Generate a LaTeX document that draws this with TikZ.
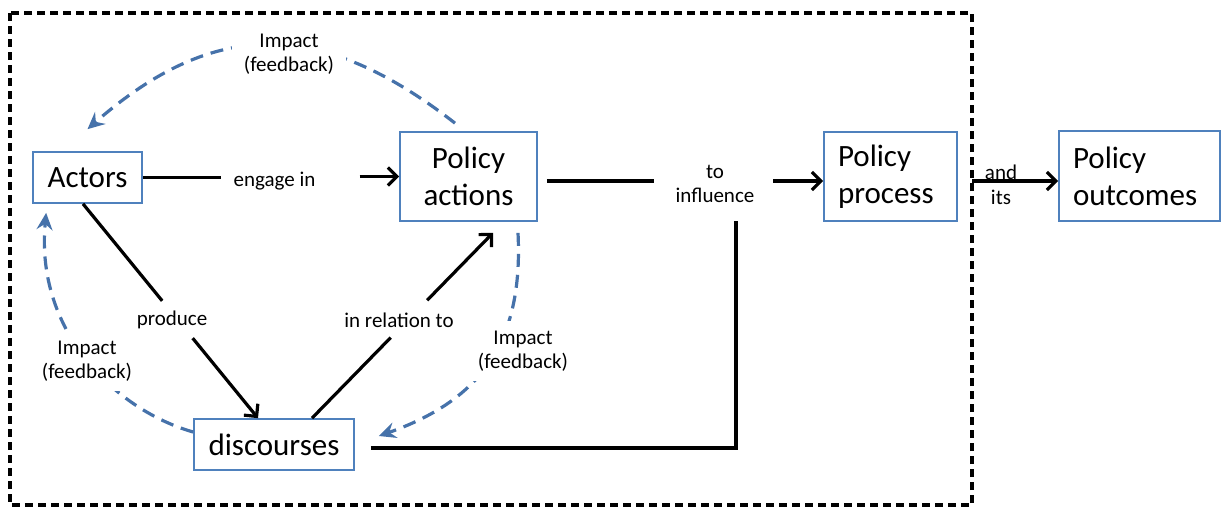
\documentclass[tikz,border=0pt]{standalone}
\usepackage{fontspec}
\setmainfont{Carlito}
\usetikzlibrary{arrows.meta}
\definecolor{boxblue}{RGB}{79,129,189}
\definecolor{arcblue}{RGB}{70,114,170}
\begin{document}
\begin{tikzpicture}[x=1pt,y=-1pt,
  box/.style={draw=boxblue, line width=1.7pt, fill=white, inner sep=0pt, font=\fontsize{31}{37}\selectfont, align=center},
  lbl/.style={font=\fontsize{21}{24}\selectfont, align=center, inner sep=2pt},
  conn/.style={line width=3.2pt, black},
  arr/.style={conn, -{Straight Barb[length=9pt,width=18pt]}},
  fb/.style={arcblue, line width=3.2pt, dash pattern=on 13pt off 8pt, -{Stealth[length=17pt,width=16pt,inset=6pt]}},
  fblbl/.style={lbl, fill=white, inner xsep=8pt, inner ysep=10pt}
]
\useasboundingbox (0,0) rectangle (1221,507);
\draw[line width=3.2pt, dash pattern=on 8pt off 5pt] (10,13) rectangle (972,505);

% boxes
\node[box, minimum width=109pt, minimum height=51pt] (actors) at (87.5,177.5) {Actors};
\node[box, minimum width=137pt, minimum height=89pt] (pa) at (468.5,176.5) {Policy\\actions};
\node[box, minimum width=160pt, minimum height=51pt] (disc) at (274,444.5) {discourses};
\node[box, text width=105pt, inner xsep=14pt, minimum height=89pt, align=left] (pp) at (890.5,176.5) {Policy\\process};
\node[box, text width=133pt, inner xsep=14pt, minimum height=90pt, align=left] (po) at (1139.5,176) {Policy\\outcomes};

% plain labels
\node[lbl] (engage) at (274.5,181) {engage in};
\node[lbl] (produce) at (172,320) {produce};
\node[lbl] (inrel) at (399,320) {in relation to};
\node[lbl] (toinf) at (715,184) {to\\influence};
\node[lbl, font=\fontsize{21}{25}\selectfont] (andits) at (1001,184.5) {and\\its};

% coordinates
\coordinate (a1) at ([yshift=-4.5pt]pa.east);
\coordinate (infl) at (736,221);
\coordinate (bord) at (972,181);

% engage in
\draw[conn, shorten >=10pt] (actors.east) -- (actors.east -| engage.west);
\draw[arr, shorten <=42pt] (engage.east |- pa.west) -- (pa.west);

% to influence
\draw[conn, shorten <=9pt, shorten >=19.5pt] (a1) -- (a1 -| toinf.west);
\draw[arr, shorten <=16.5pt] (toinf.east |- a1) -- (a1 -| pp.west);
\draw[conn] ([xshift=16pt,yshift=-3.5pt]disc.east) -| (infl);

% and its
\draw[arr] (bord) -- (bord -| po.west);

% produce
\draw[conn, shorten >=151.5pt] ([xshift=-4.5pt]actors.south) -- ([xshift=-16pt]disc.north);
\draw[arr, shorten <=173.4pt] ([xshift=-4.5pt]actors.south) -- ([xshift=-16pt]disc.north);

% in relation to
\draw[conn, shorten >=146.4pt] ([xshift=38pt]disc.north) -- ([xshift=24.5pt,yshift=-11pt]pa.south);
\draw[arr, shorten <=164.8pt] ([xshift=38pt]disc.north) -- ([xshift=24.5pt,yshift=-11pt]pa.south);

% feedback arcs
\draw[fb] ([xshift=-13.5pt,yshift=8pt]pa.north) .. controls (320.7,18.6) and (214.5,17.8) .. ([yshift=22pt]actors.north);
\draw[fb] ([yshift=12.5pt]disc.west) .. controls (116,410) and (35,332) .. ([xshift=14pt,yshift=-9pt]actors.south west);
\draw[fb] ([xshift=49.5pt,yshift=-11pt]pa.south) .. controls (523.5,342) and (481,400) .. ([xshift=24pt,yshift=8.5pt]disc.east);

\node[fblbl, inner xsep=12pt] (imp1) at (289,54) {Impact\\(feedback)};
\node[fblbl] (imp2) at (87,361) {Impact\\(feedback)};
\node[fblbl] (imp3) at (523,351) {Impact\\(feedback)};
\end{tikzpicture}
\end{document}
